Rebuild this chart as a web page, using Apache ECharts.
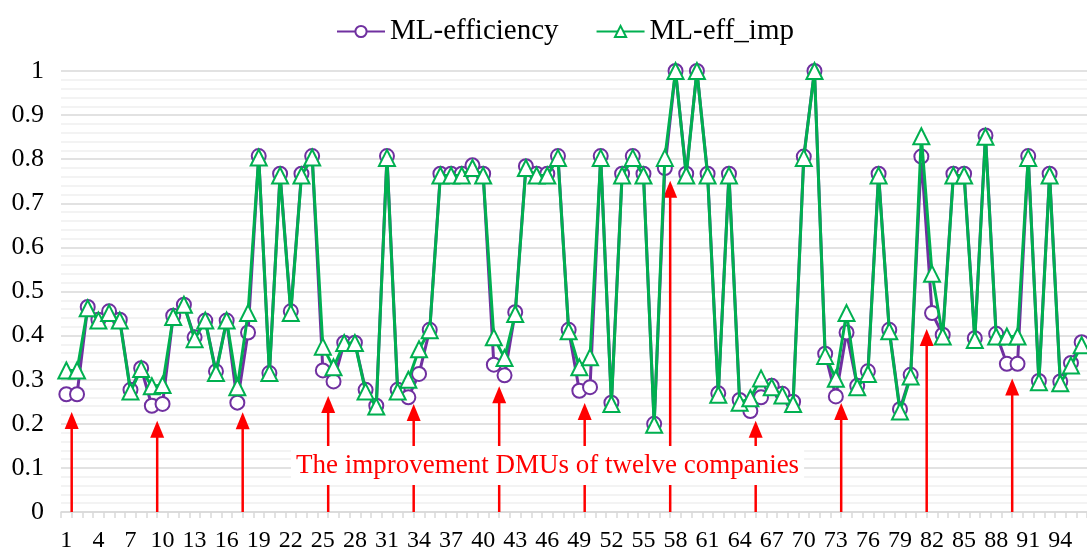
<!DOCTYPE html>
<html>
<head>
<meta charset="utf-8">
<script src="https://cdn.jsdelivr.net/npm/echarts@6/dist/echarts.min.js"></script>
<style>
  html, body { margin: 0; padding: 0; background: #fff; }
  #main { width: 1087px; height: 557px; }
</style>
</head>
<body>
<div id="main"></div>
<script>
// DMU numbers 1..96 (12 companies x 8 DMUs)
var dmus = [];
for (var i = 1; i <= 96; i++) dmus.push(String(i));

// ML-efficiency (purple, circles)
var mlEff = [
  0.267, 0.267, 0.465, 0.436, 0.455, 0.436, 0.277, 0.326, 0.241, 0.245,
  0.445, 0.470, 0.396, 0.434, 0.319, 0.434, 0.248, 0.407, 0.807, 0.315,
  0.767, 0.455, 0.767, 0.807, 0.321, 0.296, 0.384, 0.384, 0.277, 0.241,
  0.807, 0.277, 0.260, 0.313, 0.413, 0.767, 0.767, 0.767, 0.786, 0.767,
  0.334, 0.310, 0.453, 0.784, 0.767, 0.767, 0.807, 0.413, 0.275, 0.283,
  0.807, 0.248, 0.767, 0.807, 0.767, 0.200, 0.780, 1.000, 0.767, 1.000,
  0.767, 0.269, 0.767, 0.254, 0.229, 0.260, 0.286, 0.268, 0.250, 0.806,
  1.000, 0.359, 0.262, 0.407, 0.286, 0.319, 0.767, 0.413, 0.233, 0.311,
  0.806, 0.451, 0.402, 0.767, 0.767, 0.394, 0.854, 0.404, 0.336, 0.336,
  0.807, 0.297, 0.767, 0.296, 0.338, 0.385
];

// ML-eff_imp (green, triangles)
var mlEffImp = [
  0.321, 0.321, 0.462, 0.434, 0.451, 0.434, 0.273, 0.324, 0.285, 0.288,
  0.442, 0.470, 0.392, 0.434, 0.315, 0.434, 0.283, 0.451, 0.804, 0.315,
  0.763, 0.451, 0.763, 0.804, 0.375, 0.328, 0.383, 0.383, 0.273, 0.239,
  0.803, 0.273, 0.300, 0.369, 0.412, 0.763, 0.763, 0.763, 0.780, 0.763,
  0.396, 0.349, 0.449, 0.780, 0.763, 0.763, 0.803, 0.410, 0.328, 0.351,
  0.803, 0.245, 0.763, 0.803, 0.763, 0.198, 0.803, 1.000, 0.763, 1.000,
  0.763, 0.266, 0.763, 0.248, 0.258, 0.303, 0.283, 0.264, 0.245, 0.803,
  1.000, 0.354, 0.302, 0.451, 0.283, 0.313, 0.763, 0.410, 0.228, 0.307,
  0.852, 0.540, 0.398, 0.763, 0.763, 0.390, 0.851, 0.398, 0.398, 0.398,
  0.803, 0.294, 0.763, 0.292, 0.332, 0.378
];

// red arrows: position on the DMU scale (between ticks) and height of the tip
var arrowX = [1.5, 9.5, 17.5, 25.5, 33.5, 41.5, 49.5, 57.5, 65.5, 73.5, 81.5, 89.5];
var arrowTip = [0.227, 0.207, 0.226, 0.263, 0.245, 0.285, 0.247, 0.751, 0.207, 0.247, 0.415, 0.303];

var noteText = 'The improvement DMUs of twelve companies';

var serif = "'Liberation Serif', 'Times New Roman', serif";

var arrowData = [];
for (var k = 0; k < arrowX.length; k++) arrowData.push([arrowX[k], arrowTip[k]]);

var chart = echarts.init(document.getElementById('main'));

var option = {
    animation: false,
    backgroundColor: '#fff',
    legend: {
        data: ['ML-efficiency', 'ML-eff_imp'],
        left: 331,
        top: 12,
        itemWidth: 48,
        itemHeight: 14,
        itemGap: 37,
        textStyle: {fontFamily: serif, fontSize: 29, color: '#000'}
    },
    grid: {left: 61, right: -8, top: 71, bottom: 45},
    xAxis: [
        {
            type: 'category',
            data: dmus,
            boundaryGap: true,
            axisLine: {lineStyle: {color: '#D9D9D9', width: 1.5}},
            axisTick: {show: true, interval: 0, length: 6, lineStyle: {color: '#D9D9D9', width: 1.5}},
            axisLabel: {interval: 2, fontFamily: serif, fontSize: 24, color: '#000', margin: 17},
            splitLine: {show: false}
        },
        {
            // hidden helper scale for the arrows, same span as the categories
            type: 'value',
            min: 0.5,
            max: 96.5,
            show: false
        }
    ],
    yAxis: {
        type: 'value',
        min: 0,
        max: 1,
        interval: 0.1,
        axisLine: {show: false},
        axisTick: {show: false},
        axisLabel: {fontFamily: serif, fontSize: 26, color: '#000', margin: 17},
        splitLine: {lineStyle: {color: '#D9D9D9', width: 1.5}},
        minorTick: {show: false, splitNumber: 5},
        minorSplitLine: {show: true, lineStyle: {color: '#F0F0F0', width: 1.5}}
    },
    series: [
        {
            name: 'arrows',
            type: 'custom',
            xAxisIndex: 1,
            yAxisIndex: 0,
            data: arrowData,
            z: 1,
            renderItem: function (params, api) {
                var base = api.coord([api.value(0), 0]);
                var tip = api.coord([api.value(0), api.value(1)]);
                var hw = 7, hh = 17;
                return {
                    type: 'group',
                    children: [
                        {
                            type: 'line',
                            shape: {x1: base[0], y1: base[1], x2: tip[0], y2: tip[1] + hh - 2},
                            style: {stroke: '#FF0000', lineWidth: 2.5}
                        },
                        {
                            type: 'polygon',
                            shape: {points: [[tip[0], tip[1]], [tip[0] - hw, tip[1] + hh], [tip[0] + hw, tip[1] + hh]]},
                            style: {fill: '#FF0000'}
                        }
                    ]
                };
            }
        },
        {
            name: 'ML-efficiency',
            type: 'line',
            data: mlEff,
            symbol: 'emptyCircle',
            symbolSize: 14,
            showAllSymbol: true,
            lineStyle: {color: '#7030A0', width: 3},
            itemStyle: {color: '#7030A0', borderWidth: 2.5},
            z: 3
        },
        {
            name: 'ML-eff_imp',
            type: 'line',
            data: mlEffImp,
            symbol: 'emptyTriangle',
            symbolSize: 16,
            showAllSymbol: true,
            lineStyle: {color: '#00B050', width: 3},
            itemStyle: {color: '#00B050', borderWidth: 2.5},
            z: 4
        }
    ],
    graphic: [
        {
            type: 'text',
            left: 291,
            top: 446,
            z: 100,
            style: {
                text: noteText,
                font: '27px ' + serif,
                fill: '#FF0000',
                backgroundColor: '#fff',
                padding: [6, 5]
            }
        }
    ]
};

chart.setOption(option);
</script>
</body>
</html>
